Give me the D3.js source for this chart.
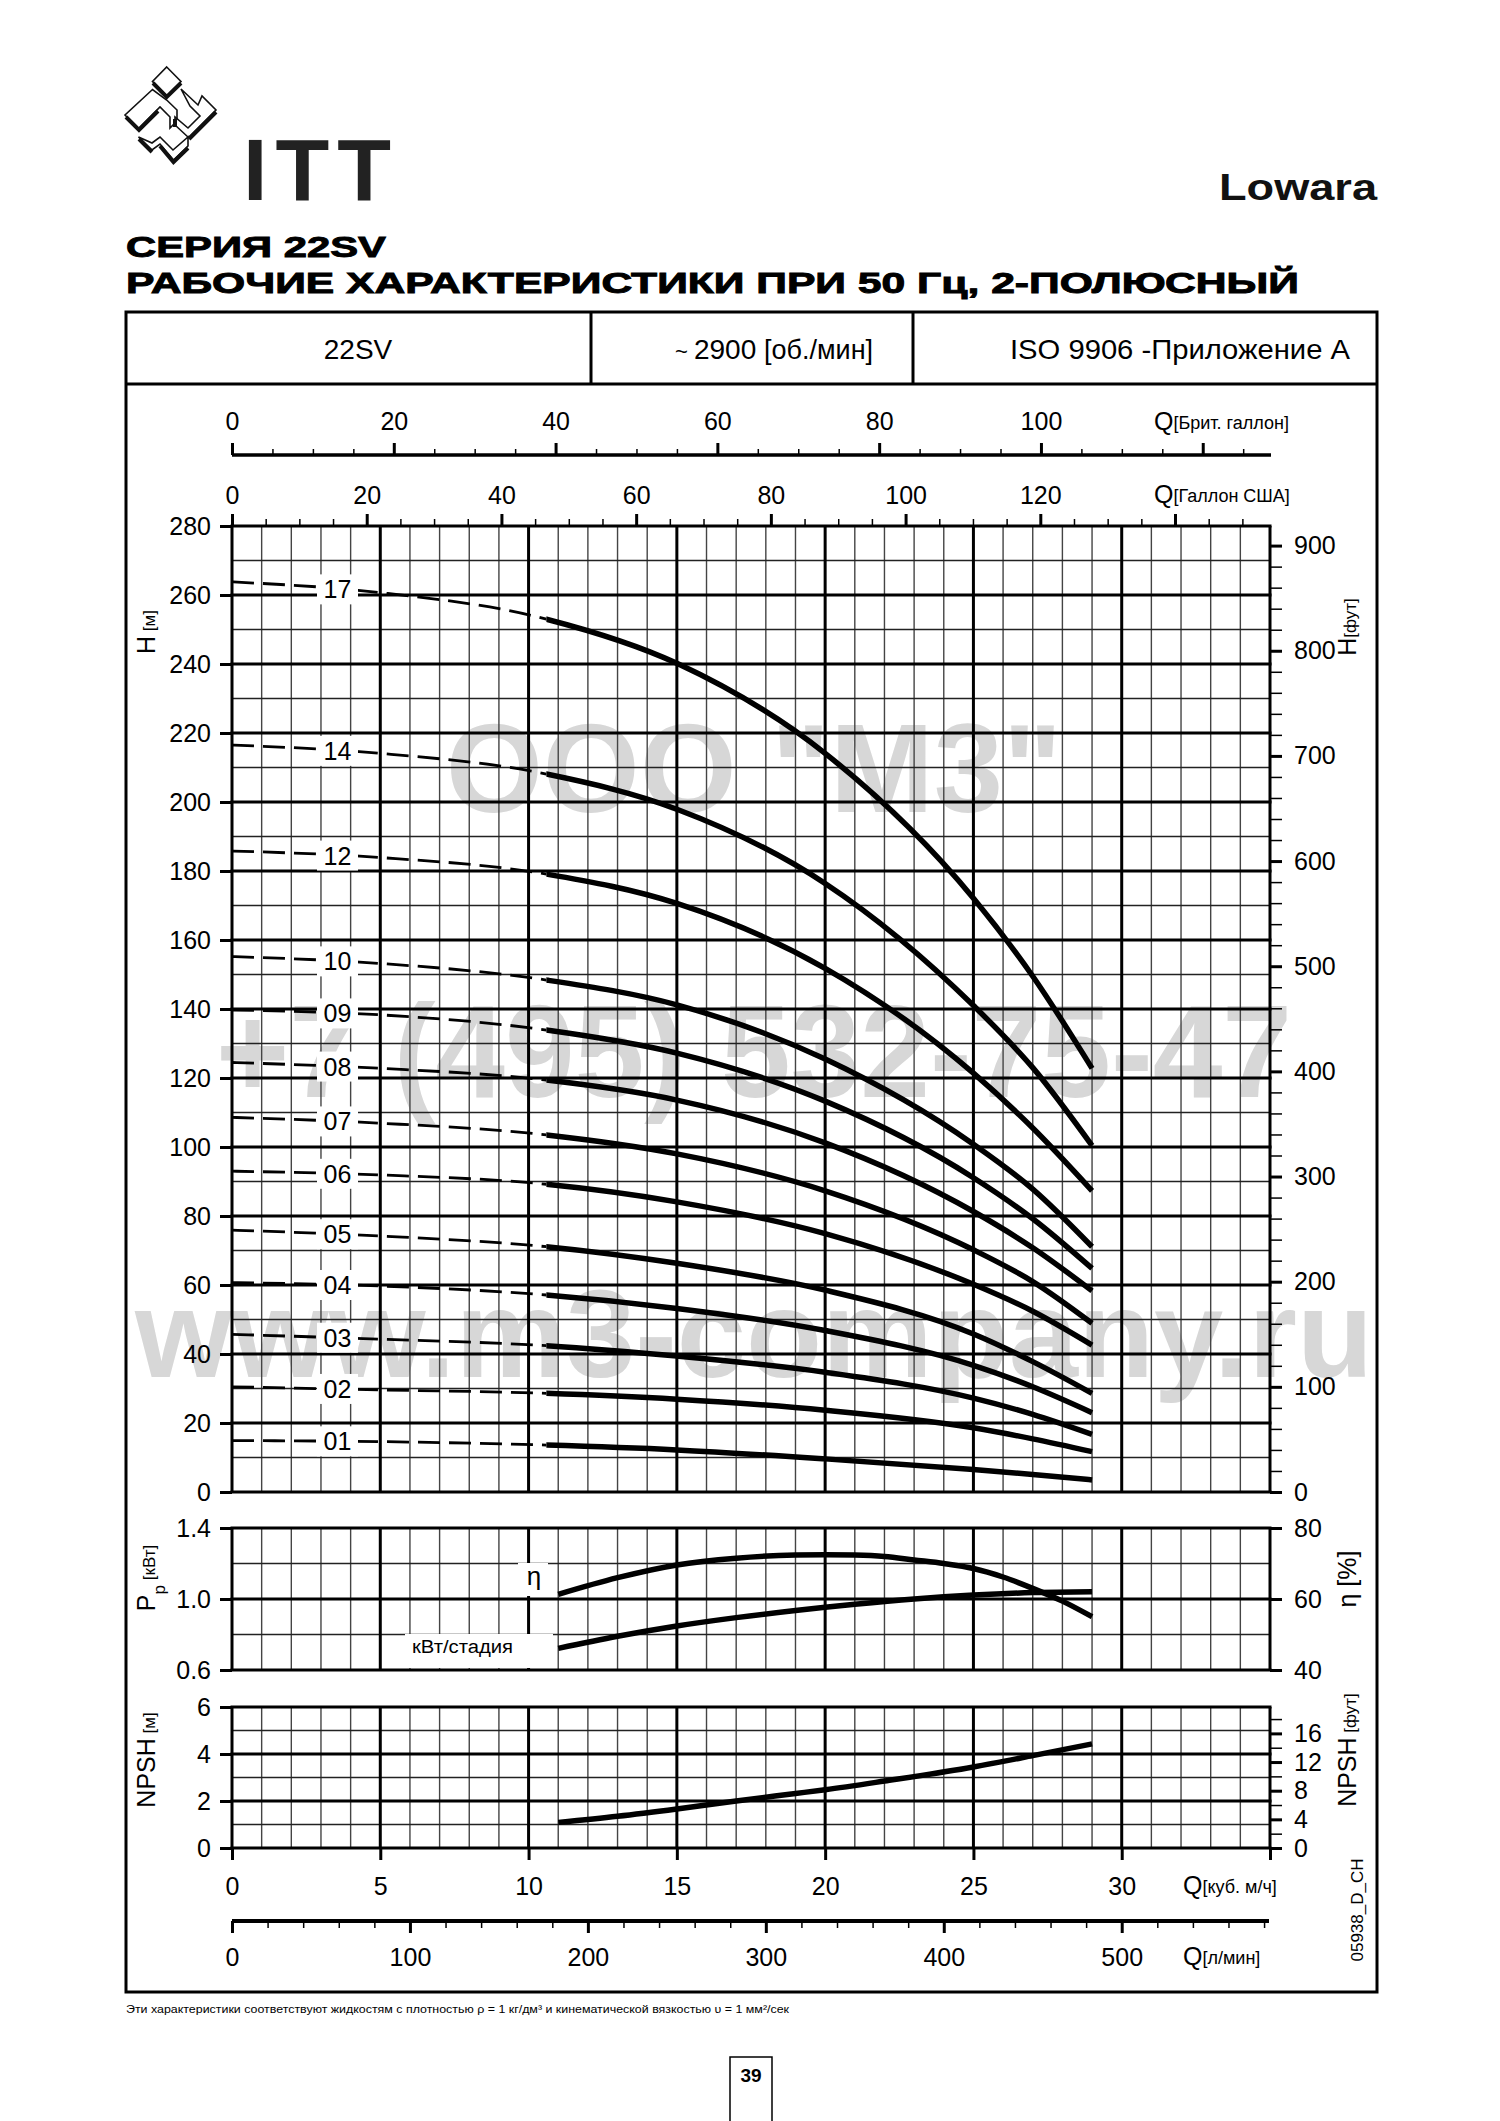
<!DOCTYPE html>
<html><head><meta charset="utf-8">
<script src="https://cdn.jsdelivr.net/npm/d3@7"></script>
<style>
body{margin:0;background:#fff;}
svg{display:block;}
text{font-family:"Liberation Sans",Arial,Helvetica,sans-serif;}
</style></head><body>
<svg id="c" width="1500" height="2121" xmlns="http://www.w3.org/2000/svg"></svg>
<script>
// ---------------- DATA ----------------
const stageLabels = ["17","14","12","10","09","08","07","06","05","04","03","02","01"];
const qHeadPts = [0, 5, 10.6, 15, 20, 25, 27, 29];           // Q [m3/h]
const h17 = [263.8, 260.7, 253.0, 240.2, 214.1, 172.1, 149.5, 122.8];
const h14 = [216.5, 214.1, 208.1, 197.9, 176.4, 141.0, 123.0, 100.4];
const h12 = [185.8, 183.9, 179.1, 170.6, 151.8, 121.4, 105.5, 87.3];
const h10 = [155.2, 153.2, 148.4, 141.2, 125.5, 100.8, 87.8, 71.1];
const h09 = [139.7, 138.3, 133.9, 127.2, 113.3, 91.1, 79.2, 64.8];
const h08 = [124.5, 122.8, 119.4, 113.6, 101.2, 81.3, 70.8, 58.3];
const h07 = [108.6, 106.9, 103.5, 98.0, 87.3, 70.2, 61.0, 48.9];
const h06 = [93.0, 91.9, 89.2, 84.1, 74.9, 60.2, 52.4, 42.6];
const h05 = [75.9, 74.2, 71.1, 66.3, 58.5, 45.8, 37.8, 28.6];
const h04 = [60.7, 59.7, 57.1, 53.2, 46.8, 36.7, 30.5, 23.0];
const h03 = [45.7, 44.3, 42.4, 39.4, 34.7, 27.2, 22.5, 16.7];
const h02 = [30.5, 29.6, 28.6, 26.9, 23.7, 18.6, 15.4, 11.7];
const h01 = [14.9, 14.6, 13.6, 12.2, 9.6, 6.5, 5.1, 3.5];
const qSolidStart = 10.6;
const labelQ = 3.5;

const qEffPts = [11, 13, 15, 17, 19, 20, 21, 22, 23, 24, 25, 26, 27, 28, 29];
const etaVals = [61.3, 66.0, 69.6, 71.5, 72.4, 72.5, 72.4, 72.0, 71.0, 70.0, 68.6, 66.2, 63.0, 59.4, 55.0];
const qPowPts = [11, 13, 15, 17, 19, 20, 21, 23, 25, 27, 29];
const powVals = [0.722, 0.79, 0.848, 0.895, 0.935, 0.953, 0.97, 1.0, 1.022, 1.036, 1.041];
const qNpshPts = [11, 13, 15, 17, 19, 20, 22, 25, 27, 29];
const npshVals = [1.09, 1.35, 1.66, 2.0, 2.32, 2.48, 2.85, 3.45, 3.93, 4.43];

// tick labels
const hTicks = [0,20,40,60,80,100,120,140,160,180,200,220,240,260,280];
const hFtTicks = [0,100,200,300,400,500,600,700,800,900];
const qTicks = [0,5,10,15,20,25,30];
const lminTicks = [0,100,200,300,400,500];
const usTicks = [0,20,40,60,80,100,120];
const ukTicks = [0,20,40,60,80,100];
const pTicks = [0.6,1.0,1.4];
const etaTicks = [40,60,80];
const npshTicks = [0,2,4,6];
const npshFtTicks = [0,4,8,12,16];

// ---------------- SCALES ----------------
const svg = d3.select("#c");
const FF = "Liberation Sans, Arial, sans-serif";
const x = d3.scaleLinear().domain([0,35]).range([232,1270]);
const yH = d3.scaleLinear().domain([0,280]).range([1492,526]);
const yHft = d3.scaleLinear().domain([0,280*3.28084]).range([1492,526]);
const yP = d3.scaleLinear().domain([0.6,1.4]).range([1670,1528]);
const yEta = d3.scaleLinear().domain([40,80]).range([1670,1528]);
const yN = d3.scaleLinear().domain([0,6]).range([1848,1707]);
const yNft = d3.scaleLinear().domain([0,6*3.28084]).range([1848,1707]);
const xUS = d3.scaleLinear().domain([0,35*4.40287]).range([232,1270]);
const xUK = d3.scaleLinear().domain([0,35*3.66615]).range([232,1270]);
const xL = d3.scaleLinear().domain([0,35*1000/60]).range([232,1270]);
const intFmt = d3.format("d");

svg.append("rect").attr("width",1500).attr("height",2121).attr("fill","#fff");

// ---------------- WATERMARK ----------------
const wm = svg.append("g").attr("fill","#d7d7d7").attr("font-weight","bold").attr("font-family",FF).attr("text-anchor","middle");
wm.append("text").attr("x",754).attr("y",812).attr("font-size",127).attr("textLength",616).attr("lengthAdjust","spacingAndGlyphs").text("ООО \"М3\"");
wm.append("text").attr("x",754).attr("y",1097).attr("font-size",132).attr("textLength",1076).attr("lengthAdjust","spacingAndGlyphs").text("+7 (495) 532-75-47");
wm.append("text").attr("x",754).attr("y",1377).attr("font-size",125).attr("textLength",1238).attr("lengthAdjust","spacingAndGlyphs").text("www.m3-company.ru");

// ---------------- HEADER / PAGE ----------------
const logo = svg.append("g").attr("fill","#fff").attr("stroke","#111").attr("stroke-width",1.6).attr("stroke-linejoin","miter");
const logoShapes = [
  [[166.7,67],[181,81.5],[166.7,96],[152.5,81.5]],
  [[152.5,89.5],[125,115],[138.5,128.5],[160,107],[170,117],[170,128],[177,121],[177,110],[166.7,100]],
  [[181,89],[198,105],[202,96],[216,110],[188.5,137.5],[175,125],[175,117],[188,128],[200,116],[190,106]],
  [[138.5,137],[152,150],[160,144],[173.5,160],[188,146],[188,137],[173,150],[160,137],[152,143]]
];
logoShapes.forEach(s=>{
  logo.append("path").attr("d","M"+s.map(p=>p.join(",")).join("L")+"Z");
});
logo.append("path").attr("fill","none").attr("stroke-width",4)
  .attr("d","M153,83L166.7,97L181,83 M126,117L139,130L158,111 M216,112L189,139 M139,139L152,152 M160,146L173.5,162L188,148 M175,127L175,119");
svg.append("text").attr("x",243).attr("y",200).attr("font-size",88).attr("font-weight","bold")
  .attr("fill","#222").attr("textLength",148).attr("lengthAdjust","spacing").text("ITT");
svg.append("text").attr("x",1219).attr("y",200).attr("font-size",36).attr("font-weight",600)
  .attr("font-family","Open Sans, Liberation Sans, sans-serif").attr("fill","#111")
  .attr("textLength",158).attr("lengthAdjust","spacingAndGlyphs").text("Lowara");
const title = svg.append("g").attr("font-weight","bold").attr("fill","#000").attr("stroke","#000").attr("stroke-width",0.9);
title.append("text").attr("x",126).attr("y",257).attr("font-size",29).attr("textLength",260).attr("lengthAdjust","spacingAndGlyphs").text("СЕРИЯ 22SV");
title.append("text").attr("x",126).attr("y",293).attr("font-size",29).attr("textLength",1173).attr("lengthAdjust","spacingAndGlyphs").text("РАБОЧИЕ ХАРАКТЕРИСТИКИ ПРИ 50 Гц, 2-ПОЛЮСНЫЙ");

// frame
svg.append("rect").attr("x",126).attr("y",312).attr("width",1251).attr("height",1680)
  .attr("fill","none").attr("stroke","#000").attr("stroke-width",3);
svg.append("line").attr("x1",126).attr("x2",1377).attr("y1",384).attr("y2",384).attr("stroke","#000").attr("stroke-width",3);
[591,913].forEach(v=>svg.append("line").attr("x1",v).attr("x2",v).attr("y1",312).attr("y2",384).attr("stroke","#000").attr("stroke-width",3));
const hdr = svg.append("g").attr("font-size",28).attr("text-anchor","middle").attr("fill","#000");
hdr.append("text").attr("x",358).attr("y",359).text("22SV");
const t2 = hdr.append("text").attr("x",774).attr("y",359);
t2.append("tspan").attr("font-size",22).text("~ ");
t2.append("tspan").text("2900 ");
t2.append("tspan").attr("font-size",27).text("[об./мин]");
hdr.append("text").attr("x",1180).attr("y",359).attr("textLength",340).attr("lengthAdjust","spacingAndGlyphs").text("ISO 9906 -Приложение A");

// footer
svg.append("text").attr("x",126).attr("y",2013).attr("font-size",11).attr("textLength",663)
  .attr("lengthAdjust","spacingAndGlyphs").text("Эти характеристики соответствуют жидкостям с плотностью ρ = 1 кг/дм³ и кинематической вязкостью υ = 1 мм²/сек");
svg.append("path").attr("d","M730,2121V2057H772V2121").attr("fill","none").attr("stroke","#000").attr("stroke-width",1.5);
svg.append("text").attr("x",751).attr("y",2082).attr("font-size",19).attr("font-weight","bold").attr("text-anchor","middle").text("39");
svg.append("text").attr("transform","translate(1363,1910) rotate(-90)").attr("font-size",17)
  .attr("text-anchor","middle").text("05938_D_CH");

// ---------------- GRIDS ----------------
function grid(yScale, hMinor, hMajor){
  const g = svg.append("g");
  const [yb, yt] = yScale.range();
  const qAll = d3.range(0,36,1);
  g.selectAll("line.vm").data(qAll.filter(q=>q%5!==0)).join("line")
    .attr("x1",d=>x(d)).attr("x2",d=>x(d)).attr("y1",yt).attr("y2",yb)
    .attr("stroke","#444").attr("stroke-width",1.4);
  g.selectAll("line.hm").data(hMinor).join("line").attr("class","hm")
    .attr("x1",x(0)).attr("x2",x(35)).attr("y1",d=>yScale(d)).attr("y2",d=>yScale(d))
    .attr("stroke","#222").attr("stroke-width",1.4);
  g.selectAll("line.vM").data(qAll.filter(q=>q%5===0)).join("line").attr("class","vM")
    .attr("x1",d=>x(d)).attr("x2",d=>x(d)).attr("y1",yt).attr("y2",yb)
    .attr("stroke","#000").attr("stroke-width",3);
  g.selectAll("line.hM").data(hMajor).join("line").attr("class","hM")
    .attr("x1",x(0)-1.5).attr("x2",x(35)+1.5).attr("y1",d=>yScale(d)).attr("y2",d=>yScale(d))
    .attr("stroke","#000").attr("stroke-width",3);
  return g;
}
grid(yH, d3.range(10,280,20), d3.range(0,281,20));
grid(yP, [0.8,1.2], [0.6,1.0,1.4]);
grid(yN, [1,3,5], [0,2,4,6]);

// ---------------- AXES ----------------
function styl(g, fs, sw){
  g.attr("font-size",fs).attr("font-family",FF);
  g.select(".domain").remove();
  g.selectAll(".tick line").attr("stroke","#000").attr("stroke-width",sw);
  g.selectAll(".tick text").attr("fill","#000");
  return g;
}
// left
styl(svg.append("g").attr("transform","translate(232,0)").call(d3.axisLeft(yH).tickValues(hTicks).tickSize(12).tickPadding(9).tickFormat(intFmt)),25,3);
styl(svg.append("g").attr("transform","translate(232,0)").call(d3.axisLeft(yP).tickValues(pTicks).tickSize(12).tickPadding(9).tickFormat(d3.format(".1f"))),25,3);
styl(svg.append("g").attr("transform","translate(232,0)").call(d3.axisLeft(yN).tickValues(npshTicks).tickSize(12).tickPadding(9).tickFormat(intFmt)),25,3);
// right
styl(svg.append("g").attr("transform","translate(1270,0)").call(d3.axisRight(yHft).tickValues(d3.range(20,920,20).filter(v=>v%100)).tickSize(12).tickFormat("")),25,1.5);
styl(svg.append("g").attr("transform","translate(1270,0)").call(d3.axisRight(yHft).tickValues(hFtTicks).tickSize(12).tickPadding(12).tickFormat(intFmt)),25,3);
styl(svg.append("g").attr("transform","translate(1270,0)").call(d3.axisRight(yEta).tickValues(etaTicks).tickSize(12).tickPadding(12).tickFormat(intFmt)),25,3);
styl(svg.append("g").attr("transform","translate(1270,0)").call(d3.axisRight(yNft).tickValues([2,6,10,14,18]).tickSize(12).tickFormat("")),25,1.5);
styl(svg.append("g").attr("transform","translate(1270,0)").call(d3.axisRight(yNft).tickValues(npshFtTicks).tickSize(12).tickPadding(12).tickFormat(intFmt)),25,3);
// top US gallons
styl(svg.append("g").attr("transform","translate(0,526)").call(d3.axisTop(xUS).tickValues(d3.range(5,155,5).filter(v=>v%20)).tickSize(7).tickFormat("")),25,1.5);
styl(svg.append("g").attr("transform","translate(0,526)").call(d3.axisTop(xUS).tickValues(usTicks.concat([140])).tickSize(12).tickPadding(10).tickFormat(d=>d===140?"":intFmt(d))),25,3);
// Brit gallons
svg.append("line").attr("x1",232).attr("x2",1271).attr("y1",455).attr("y2",455).attr("stroke","#000").attr("stroke-width",3.5);
styl(svg.append("g").attr("transform","translate(0,455)").call(d3.axisTop(xUK).tickValues(d3.range(5,130,5).filter(v=>v%20)).tickSize(6).tickFormat("")),25,1.5);
styl(svg.append("g").attr("transform","translate(0,455)").call(d3.axisTop(xUK).tickValues(ukTicks.concat([120])).tickSize(12).tickPadding(13).tickFormat(d=>d===120?"":intFmt(d))),25,3);
// bottom m3/h
styl(svg.append("g").attr("transform","translate(0,1848)").call(d3.axisBottom(x).tickValues(qTicks.concat([35])).tickSize(12).tickPadding(17).tickFormat(d=>d===35?"":intFmt(d))),25,3);
// l/min
svg.append("line").attr("x1",232).attr("x2",1269).attr("y1",1921).attr("y2",1921).attr("stroke","#000").attr("stroke-width",4);
styl(svg.append("g").attr("transform","translate(0,1921)").call(d3.axisBottom(xL).tickValues(d3.range(20,590,20).filter(v=>v%100)).tickSize(7).tickFormat("")),25,1.5);
styl(svg.append("g").attr("transform","translate(0,1921)").call(d3.axisBottom(xL).tickValues(lminTicks).tickSize(12).tickPadding(15).tickFormat(intFmt)),25,3);

// axis unit labels
function qLabel(x0, y0, unit){
  const t = svg.append("text").attr("x",x0).attr("y",y0).attr("font-size",25);
  t.append("tspan").text("Q");
  t.append("tspan").attr("font-size",18).attr("dy",-1).text(unit);
}
qLabel(1154, 430, "[Брит. галлон]");
qLabel(1154, 503, "[Галлон США]");
qLabel(1183, 1894, "[куб. м/ч]");
qLabel(1183, 1965, "[л/мин]");

function vLabel(cx, cy, parts){
  const t = svg.append("text").attr("transform",`translate(${cx},${cy}) rotate(-90)`).attr("text-anchor","middle").attr("font-size",25);
  parts.forEach(p=>{
    const s = t.append("tspan").attr("font-size",p[1]).text(p[0]);
    if(p[2]) s.attr("baseline-shift",p[2]);
  });
}
vLabel(155, 632, [["H",25],[" [м]",17]]);
vLabel(155, 1578, [["P",25],["p",17,"sub"],[" [кВт]",17]]);
vLabel(155, 1760, [["NPSH",25],[" [м]",17]]);
vLabel(1356, 627, [["H",25],["[фут]",17]]);
vLabel(1356, 1579, [["η",25],[" [%]",25]]);
vLabel(1356, 1750, [["NPSH",25],[" [фут]",17]]);

// ---------------- CURVES ----------------
const defs = svg.append("defs");
defs.append("clipPath").attr("id","cDash").append("rect")
  .attr("x",x(0)).attr("y",500).attr("width",x(qSolidStart)-x(0)).attr("height",1000);
defs.append("clipPath").attr("id","cSolid").append("rect")
  .attr("x",x(qSolidStart)).attr("y",500).attr("width",x(35)-x(qSolidStart)).attr("height",1000);

const headSeries = [h17,h14,h12,h10,h09,h08,h07,h06,h05,h04,h03,h02,h01];
const hLine = d3.line().x((d,i)=>x(qHeadPts[i])).y(d=>yH(d)).curve(d3.curveMonotoneX);
const cg = svg.append("g").attr("fill","none").attr("stroke","#000");
headSeries.forEach(s=>{
  cg.append("path").attr("d",hLine(s)).attr("stroke-width",2.8).attr("stroke-dasharray","22,9").attr("clip-path","url(#cDash)");
  cg.append("path").attr("d",hLine(s)).attr("stroke-width",5.5).attr("clip-path","url(#cSolid)");
});
// stage labels
const lg = svg.append("g");
headSeries.forEach((s,i)=>{
  const v = d3.scaleLinear().domain(qHeadPts).range(s)(labelQ);
  const yy = yH(v);
  lg.append("rect").attr("x",317).attr("y",yy-15).attr("width",41).attr("height",30).attr("fill","#fff");
  lg.append("text").attr("x",337.5).attr("y",yy+9).attr("text-anchor","middle").attr("font-size",25).text(stageLabels[i]);
});

// efficiency, power, npsh
const effLine = d3.line().x((d,i)=>x(qEffPts[i])).y(d=>yEta(d)).curve(d3.curveMonotoneX);
const powLine = d3.line().x((d,i)=>x(qPowPts[i])).y(d=>yP(d)).curve(d3.curveMonotoneX);
const npLine = d3.line().x((d,i)=>x(qNpshPts[i])).y(d=>yN(d)).curve(d3.curveMonotoneX);
cg.append("path").attr("d",effLine(etaVals)).attr("stroke-width",5.5);
cg.append("path").attr("d",powLine(powVals)).attr("stroke-width",5.5);
cg.append("path").attr("d",npLine(npshVals)).attr("stroke-width",5.5);

svg.append("rect").attr("x",518).attr("y",1563).attr("width",30).attr("height",33).attr("fill","#fff");
svg.append("text").attr("x",534).attr("y",1585).attr("text-anchor","middle").attr("font-size",26).text("η");
svg.append("rect").attr("x",405).attr("y",1634).attr("width",148).attr("height",34).attr("fill","#fff");
svg.append("text").attr("x",412).attr("y",1653).attr("font-size",18).attr("textLength",101)
  .attr("lengthAdjust","spacingAndGlyphs").text("кВт/стадия");
</script>
</body></html>
